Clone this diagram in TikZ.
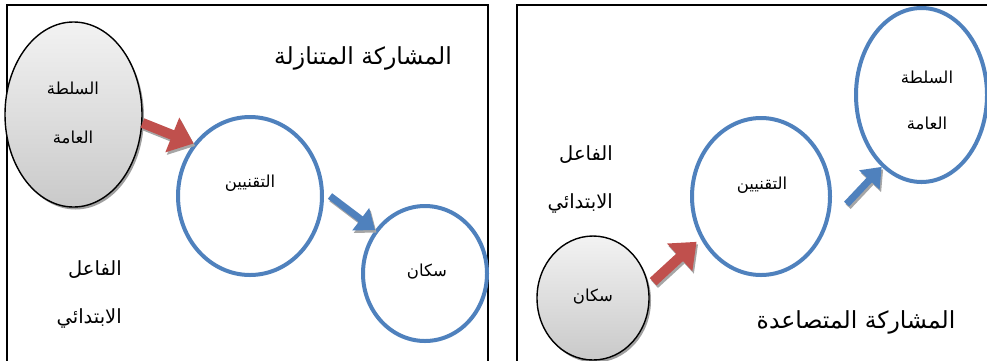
\documentclass[tikz,border=0pt]{standalone}
\usepackage{fontspec}
\newfontfamily\arabicfont[Script=Arabic]{DejaVu Sans}
\TeXXeTstate=1
\usetikzlibrary{shapes.geometric,arrows.meta,shadows}
\definecolor{obl}{HTML}{4F81BD}
\definecolor{ored}{HTML}{C0504D}
\newcommand{\ar}[1]{\beginR #1\endR}
\newcommand{\blockarr}[6]{% color, shaft, head length, head width, from, to
  \draw[line width=#2, draw=gray!70, -{Triangle[length=#3,width=#4]}, transform canvas={shift={(1.5pt,-2.5pt)}}] #5 -- #6;
  \draw[line width=#2, draw=#1, -{Triangle[length=#3,width=#4]}] #5 -- #6;}
\begin{document}
\begin{tikzpicture}[x=1pt,y=-1pt,
  grayell/.style={ellipse, draw=black, line width=1.4pt, top color=gray!10, bottom color=gray!42,
    drop shadow={shadow xshift=2pt, shadow yshift=-2.5pt, fill=gray!75, opacity=1}, inner sep=0pt},
  blueell/.style={ellipse, draw=obl, line width=4pt, fill=white, inner sep=0pt},
  lbl/.style={font=\arabicfont\fontsize{16.5}{19}\selectfont, inner sep=0pt},
  big/.style={font=\arabicfont\fontsize{19.5}{23}\selectfont, inner sep=0pt},
  ttl/.style={font=\arabicfont\fontsize{23.5}{27}\selectfont, inner sep=0pt},
  frame/.style={draw=black, line width=1.5pt}
]
\useasboundingbox (0,0) rectangle (987,360);
% frames
\draw[frame] (7,362) -- (7,5) -- (488,5) -- (488,362);
\draw[frame] (517,362) -- (517,5) -- (990,5);

% ---------- left panel ----------
\node[grayell, minimum width=137pt, minimum height=185pt] (g1) at (73.5,114.5) {};
\node[lbl] (g1a) at (73,88) {\ar{السلطة}};
\node[lbl] (g1b) at (73,137) {\ar{العامة}};
\node[blueell, minimum width=144pt, minimum height=158pt] (t1) at (250,196) {};
\node[lbl] (t1a) at (250,183) {\ar{التقنيين}};
\node[blueell, minimum width=124pt, minimum height=135pt] (s1) at (425,273.5) {};
\node[lbl] (s1a) at (427,272) {\ar{سكان}};
\node[ttl] (ttl1) at (363,58) {\ar{المشاركة المتنازلة}};
\node[big, anchor=east] (f1a) at (122,270) {\ar{الفاعل}};
\node[big, anchor=east] (f1b) at (122,318) {\ar{الابتدائي}};
\blockarr{ored}{10pt}{23pt}{36pt}{(g1.-7)}{(t1.137)}
\blockarr{obl}{7pt}{18pt}{27pt}{([shift={(6pt,0pt)}]t1.0)}{(s1.139)}

% ---------- right panel ----------
\node[grayell, minimum width=112pt, minimum height=124pt] (g2) at (593,298) {};
\node[lbl] (g2a) at (593,297) {\ar{سكان}};
\node[blueell, minimum width=138pt, minimum height=157pt] (t2) at (761,196.5) {};
\node[lbl] (t2a) at (762,185) {\ar{التقنيين}};
\node[blueell, minimum width=131pt, minimum height=174pt] (e2) at (921.5,95) {};
\node[lbl] (e2a) at (927,77) {\ar{السلطة}};
\node[lbl] (e2b) at (927,123) {\ar{العامة}};
\node[ttl] (ttl2) at (856,322) {\ar{المشاركة المتصاعدة}};
\node[big, anchor=east] (f2a) at (613,155) {\ar{الفاعل}};
\node[big, anchor=east] (f2b) at (613,203) {\ar{الابتدائي}};
\blockarr{ored}{10pt}{23pt}{36pt}{([shift={(5pt,1.5pt)}]g2.15)}{([shift={(-4pt,-3pt)}]t2.215)}
\blockarr{obl}{7pt}{18pt}{27pt}{([shift={(18pt,17pt)}]t2.-20)}{(e2.241)}
\end{tikzpicture}
\end{document}
